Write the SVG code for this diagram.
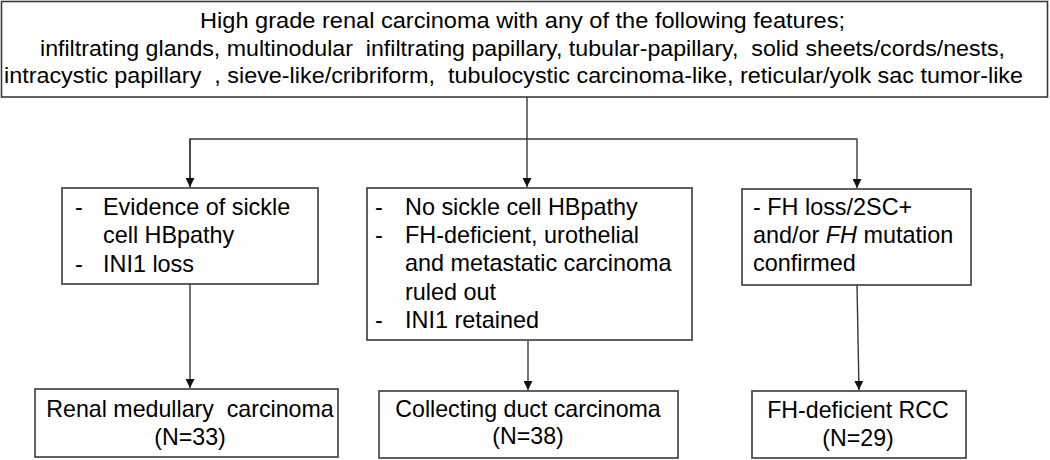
<svg xmlns="http://www.w3.org/2000/svg" width="1050" height="460" viewBox="0 0 1050 460">
<style>
.box{fill:#fff;stroke:#3a3a3a;stroke-width:1.6}
.t{font-family:"Liberation Sans",Arial,sans-serif;font-size:22px;fill:#000}
.b{font-family:"Liberation Sans",Arial,sans-serif;font-size:23.4px;fill:#000}
.c{font-family:"Liberation Sans",Arial,sans-serif;font-size:23.2px;fill:#000;text-anchor:middle}
.ln{fill:none;stroke:#3a3a3a;stroke-width:1.4}
</style>
<defs>
<marker id="ah" viewBox="0 0 10 10" refX="10" refY="5" markerWidth="9" markerHeight="9" markerUnits="userSpaceOnUse" orient="auto">
<path d="M0,0 L10,5 L0,10 Z" fill="#111"/>
</marker>
</defs>
<g id="connectors">
<line class="ln" x1="527" y1="97" x2="527" y2="187" marker-end="url(#ah)"/>
<polyline class="ln" points="190,187 190,139 857,139 857,188" marker-end="url(#ah)"/>
<line class="ln" x1="190" y1="139" x2="190" y2="187" marker-end="url(#ah)"/>
<line class="ln" x1="190" y1="284" x2="190" y2="388" marker-end="url(#ah)"/>
<line class="ln" x1="528" y1="341" x2="528" y2="390" marker-end="url(#ah)"/>
<line class="ln" x1="857" y1="285" x2="859" y2="390" marker-end="url(#ah)"/>
</g>
<g id="top">
<rect class="box" x="1.5" y="1.5" width="1046" height="95.5"/>
<text class="t" x="200" y="28" textLength="645" lengthAdjust="spacingAndGlyphs">High grade renal carcinoma with any of the following features;</text>
<text class="t" x="40" y="56" textLength="965" lengthAdjust="spacingAndGlyphs" xml:space="preserve">infiltrating glands, multinodular  infiltrating papillary, tubular-papillary,  solid sheets/cords/nests,</text>
<text class="t" x="4" y="83" textLength="1019" lengthAdjust="spacingAndGlyphs" xml:space="preserve">intracystic papillary  , sieve-like/cribriform,  tubulocystic carcinoma-like, reticular/yolk sac tumor-like</text>
</g>
<g id="rmc-criteria">
<rect class="box" x="62" y="188" width="256" height="96"/>
<text class="b" x="75" y="215">-</text>
<text class="b" x="103" y="215">Evidence of sickle</text>
<text class="b" x="103" y="243">cell HBpathy</text>
<text class="b" x="75" y="272">-</text>
<text class="b" x="103" y="272">INI1 loss</text>
</g>
<g id="cdc-criteria">
<rect class="box" x="367" y="188" width="325" height="152"/>
<text class="b" x="375" y="215">-</text>
<text class="b" x="405" y="215">No sickle cell HBpathy</text>
<text class="b" x="375" y="243">-</text>
<text class="b" x="405" y="243">FH-deficient, urothelial</text>
<text class="b" x="405" y="271">and metastatic carcinoma</text>
<text class="b" x="405" y="300">ruled out</text>
<text class="b" x="375" y="328">-</text>
<text class="b" x="405" y="328">INI1 retained</text>
</g>
<g id="fh-criteria">
<rect class="box" x="742" y="189" width="229" height="96"/>
<text class="b" x="753" y="215">- FH loss/2SC+</text>
<text class="b" x="753" y="243">and/or <tspan font-style="italic">FH</tspan> mutation</text>
<text class="b" x="753" y="271">confirmed</text>
</g>
<g id="rmc">
<rect class="box" x="35" y="389" width="303" height="68"/>
<text class="c" x="190" y="417" xml:space="preserve">Renal medullary  carcinoma</text>
<text class="c" x="190" y="445">(N=33)</text>
</g>
<g id="cdc">
<rect class="box" x="379" y="391" width="299" height="67"/>
<text class="c" x="528" y="417">Collecting duct carcinoma</text>
<text class="c" x="528" y="444">(N=38)</text>
</g>
<g id="fh">
<rect class="box" x="752" y="391" width="214" height="67"/>
<text class="c" x="858" y="418">FH-deficient RCC</text>
<text class="c" x="858" y="446">(N=29)</text>
</g>
</svg>
